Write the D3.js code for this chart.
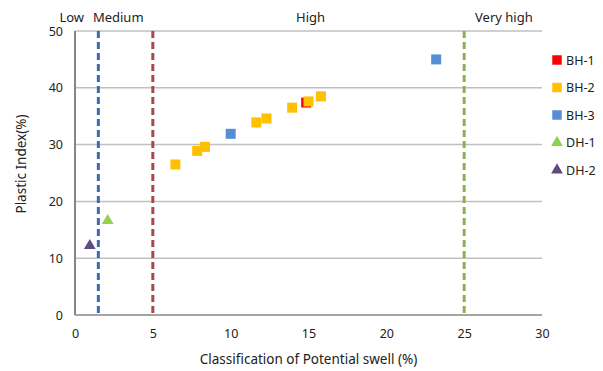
<!DOCTYPE html>
<html>
<head>
<meta charset="utf-8">
<script src="https://cdn.jsdelivr.net/npm/d3@7"></script>
<style>
  body { margin: 0; background: #fff; }
  text { font-family: "Noto Sans", sans-serif; fill: #222; }
</style>
</head>
<body>
<div id="chart"></div>
<script>
// series
var seriesNames = ['BH-1', 'BH-2', 'BH-3', 'DH-1', 'DH-2'];
var bh1X = [14.85];
var bh1Y = [37.4];
var bh2X = [6.45, 7.85, 8.35, 11.65, 12.3, 13.95, 15.0, 15.8];
var bh2Y = [26.5, 28.9, 29.6, 33.9, 34.6, 36.5, 37.6, 38.5];
var bh3X = [10.0, 23.2];
var bh3Y = [31.9, 45.0];
var dh1X = [2.1];
var dh1Y = [16.6];
var dh2X = [0.95];
var dh2Y = [12.2];

var classBounds = [1.5, 5, 25];
var classLabels = ['Low', 'Medium', 'High', 'Very high'];
var classLabelX = [-1.0, 1.15, 14.2, 25.7];
var xTicks = [0, 5, 10, 15, 20, 25, 30];
var yTicks = [0, 10, 20, 30, 40, 50];

var colors = ['#ff0000', '#ffc000', '#558ed5', '#92d050', '#5f4b7f'];
var shapes = ['square', 'square', 'square', 'triangle', 'triangle'];
var lineColors = ['#3d6bad', '#a94848', '#8eae55'];

var seriesX = [bh1X, bh2X, bh3X, dh1X, dh2X];
var seriesY = [bh1Y, bh2Y, bh3Y, dh1Y, dh2Y];

var width = 603, height = 371;
var margin = {left: 75, right: 61, top: 31, bottom: 56};

var svg = d3.select('#chart').append('svg')
    .attr('width', width)
    .attr('height', height);

var x = d3.scaleLinear().domain([0, 30]).range([margin.left, width - margin.right]);
var y = d3.scaleLinear().domain([0, 50]).range([height - margin.bottom, margin.top]);

// gridlines
svg.append('g').selectAll('line').data(yTicks.slice(1)).enter()
  .append('line')
  .attr('x1', x(0)).attr('x2', x(30))
  .attr('y1', function(d) { return y(d); })
  .attr('y2', function(d) { return y(d); })
  .attr('stroke', '#c0c0c0')
  .attr('stroke-width', 1.5);

// axes lines
svg.append('line')
  .attr('x1', x(0)).attr('x2', x(0))
  .attr('y1', y(0)).attr('y2', y(50))
  .attr('stroke', '#868686').attr('stroke-width', 2);
svg.append('line')
  .attr('x1', x(0)).attr('x2', x(30))
  .attr('y1', y(0)).attr('y2', y(0))
  .attr('stroke', '#868686').attr('stroke-width', 1.5);

// tick labels
var xAxis = svg.append('g')
  .attr('transform', 'translate(0,' + (y(0) + 14) + ')')
  .call(d3.axisBottom(x).tickValues(xTicks).tickSize(0).tickPadding(0));
xAxis.select('.domain').remove();
xAxis.selectAll('text').attr('font-size', 12.5).attr('fill', '#222');

var yAxis = svg.append('g')
  .attr('transform', 'translate(' + (x(0) - 12) + ',0)')
  .call(d3.axisLeft(y).tickValues(yTicks).tickSize(0).tickPadding(0));
yAxis.select('.domain').remove();
yAxis.selectAll('text').attr('font-size', 12.5).attr('fill', '#222');

// class boundaries
svg.append('g').selectAll('line').data(classBounds).enter()
  .append('line')
  .attr('x1', function(d) { return x(d); })
  .attr('x2', function(d) { return x(d); })
  .attr('y1', y(50)).attr('y2', y(0))
  .attr('stroke', function(d, i) { return lineColors[i]; })
  .attr('stroke-width', 3)
  .attr('stroke-dasharray', '7,4');

svg.append('g').selectAll('text').data(classLabels).enter()
  .append('text')
  .attr('x', function(d, i) { return x(classLabelX[i]); })
  .attr('y', 22)
  .attr('font-size', 13)
  .text(function(d) { return d; });

// markers
var sym = {
  square: d3.symbol().type(d3.symbolSquare).size(100),
  triangle: d3.symbol().type(d3.symbolTriangle).size(60)
};

seriesNames.forEach(function(name, s) {
  svg.append('g').selectAll('path').data(seriesX[s]).enter()
    .append('path')
    .attr('transform', function(d, i) { return 'translate(' + x(d) + ',' + y(seriesY[s][i]) + ')'; })
    .attr('d', sym[shapes[s]])
    .attr('fill', colors[s]);
});

// legend
var legend = svg.append('g').selectAll('g').data(seriesNames).enter()
  .append('g')
  .attr('transform', function(d, i) { return 'translate(557,' + (60 + i * 27.5) + ')'; });
legend.append('path')
  .attr('d', function(d, i) { return shapes[i] === 'square' ? d3.symbol().type(d3.symbolSquare).size(90)() : sym.triangle(); })
  .attr('fill', function(d, i) { return colors[i]; });
legend.append('text')
  .attr('x', 9).attr('y', 4.5)
  .attr('font-size', 12.5)
  .text(function(d) { return d; });

// axis titles
svg.append('text')
  .attr('x', (x(0) + x(30)) / 2).attr('y', 364)
  .attr('text-anchor', 'middle')
  .attr('font-size', 13.5)
  .text('Classification of Potential swell (%)');
svg.append('text')
  .attr('transform', 'translate(26,164) rotate(-90)')
  .attr('text-anchor', 'middle')
  .attr('font-size', 13.5)
  .text('Plastic Index(%)');
</script>
</body>
</html>
